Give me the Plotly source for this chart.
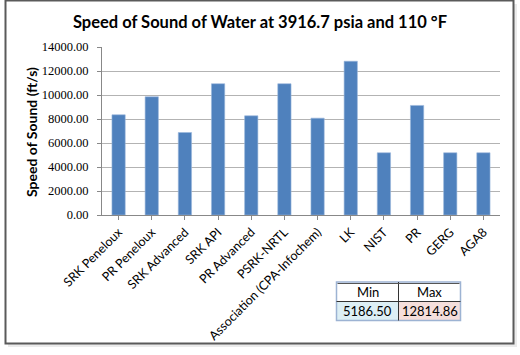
import plotly.graph_objects as go

categories = ["SRK Peneloux", "PR Peneloux", "SRK Advanced", "SRK API", "PR Advanced",
              "PSRK-NRTL", "Association (CPA-Infochem)", "LK", "NIST", "PR", "GERG", "AGA8"]
speed_fts = [8350, 9853, 6875, 10938, 8266, 10938, 8072, 12814.86, 5186.50, 9129, 5186.50, 5186.50]
y_ticks = [0, 2000, 4000, 6000, 8000, 10000, 12000, 14000]
table_headers = ["Min", "Max"]
table_values = [min(speed_fts), max(speed_fts)]

W, H = 520, 355
L, R, T, B = 102, 500, 47, 215  # plot area in pixels


def px(x):
    return (x - L) / (R - L)


def py(y):
    return (B - y) / (B - T)


FONT = "Lato"

fig = go.Figure()
fig.add_trace(go.Bar(
    x=categories, y=speed_fts, width=0.4,
    marker=dict(color="#4F81BD", line=dict(color="#9BB7DC", width=0.6)),
    hoverinfo="x+y",
))

shapes = []
# outer shadow
shapes.append(dict(type="rect", xref="paper", yref="paper",
                   x0=px(8), x1=px(517), y0=py(347), y1=py(4),
                   line=dict(width=0), fillcolor="rgba(0,0,0,0.08)", layer="below"))
# outer border
shapes.append(dict(type="rect", xref="paper", yref="paper",
                   x0=px(5.5), x1=px(513.5), y0=py(343.5), y1=py(0.5),
                   line=dict(color="#5a5a5a", width=2), fillcolor="white", layer="below"))

# table
tx0, tx1, txm = 336.5, 460.5, 398.5
ty0, tym, ty1 = 282, 301.5, 320.5
shapes += [
    dict(type="rect", xref="paper", yref="paper", x0=px(tx0), x1=px(txm), y0=py(ty1), y1=py(tym),
         fillcolor="#DDEFF5", line=dict(width=0)),
    dict(type="rect", xref="paper", yref="paper", x0=px(txm), x1=px(tx1), y0=py(ty1), y1=py(tym),
         fillcolor="#F5DEDB", line=dict(width=0)),
    dict(type="rect", xref="paper", yref="paper", x0=px(tx0), x1=px(tx1), y0=py(tym), y1=py(ty0),
         fillcolor="#FFFFFF", line=dict(width=0)),
    dict(type="rect", xref="paper", yref="paper", x0=px(tx0), x1=px(tx1), y0=py(ty1), y1=py(ty0),
         fillcolor="rgba(0,0,0,0)", line=dict(color="#9DB3D3", width=1.5)),
    dict(type="line", xref="paper", yref="paper", x0=px(txm), x1=px(txm), y0=py(ty1), y1=py(ty0),
         line=dict(color="#333333", width=1)),
    dict(type="line", xref="paper", yref="paper", x0=px(tx0), x1=px(tx1), y0=py(tym), y1=py(tym),
         line=dict(color="#333333", width=1)),
    dict(type="line", xref="paper", yref="paper", x0=px(tx0 + 1), x1=px(tx1 - 1), y0=py(ty0 + 1.5), y1=py(ty0 + 1.5),
         line=dict(color="#555555", width=1)),
]

annotations = []
cells = [(tx0, txm), (txm, tx1)]
for i, (a, b) in enumerate(cells):
    annotations.append(dict(xref="paper", yref="paper", x=px((a + b) / 2), y=py((ty0 + tym) / 2),
                            text=table_headers[i], showarrow=False,
                            font=dict(family=FONT, size=13, color="#000000"),
                            xanchor="center", yanchor="middle"))
    annotations.append(dict(xref="paper", yref="paper", x=px((a + b) / 2), y=py((tym + ty1) / 2),
                            text=f"{table_values[i]:.2f}", showarrow=False,
                            font=dict(family=FONT, size=13, color="#000000"),
                            xanchor="center", yanchor="middle"))

# y-axis title
annotations.append(dict(xref="paper", yref="paper", x=px(31), y=py(132),
                        text="<b>Speed of Sound (ft/s)</b>", textangle=-90, showarrow=False,
                        font=dict(family=FONT, size=14, color="#000000"),
                        xanchor="center", yanchor="middle"))

fig.update_layout(
    width=W, height=H,
    margin=dict(l=L, r=W - R, t=T, b=H - B, pad=0),
    paper_bgcolor="white", plot_bgcolor="white",
    title=dict(text="<b>Speed of Sound of Water at 3916.7 psia and 110 °F</b>",
               x=0.5, xref="container", xanchor="center", y=1 - 22 / H, yanchor="middle",
               font=dict(family=FONT, size=16.5, color="#000000")),
    showlegend=False,
    bargap=0.6,
    shapes=shapes,
    annotations=annotations,
    xaxis=dict(
        tickangle=-45, tickfont=dict(family=FONT, size=12.5, color="#000000"),
        showline=True, linecolor="#888888", linewidth=1,
        ticks="outside", ticklen=4, tickcolor="#888888",
        showgrid=False, fixedrange=True, automargin=False,
    ),
    yaxis=dict(
        range=[0, 14000], tickvals=y_ticks,
        ticktext=[f"{v:.2f}" for v in y_ticks],
        tickfont=dict(family="Liberation Serif", size=12.5, color="#000000"),
        showline=True, linecolor="#888888", linewidth=1,
        showgrid=True, gridcolor="#B3B3B3", gridwidth=1,
        ticks="outside", ticklen=4, tickcolor="#888888",
        ticklabelstandoff=6,
        zeroline=False, fixedrange=True, automargin=False,
    ),
)

fig.write_html("out.html", config={"displayModeBar": False},
               post_script="document.body.style.margin='0';")
